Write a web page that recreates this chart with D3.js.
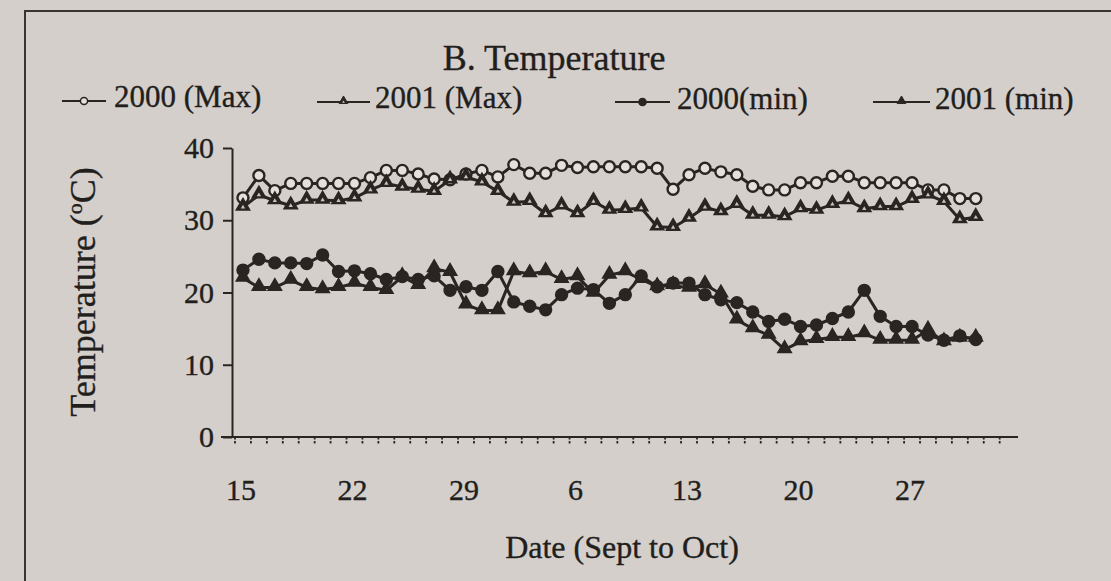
<!DOCTYPE html>
<html>
<head>
<meta charset="utf-8">
<script src="https://cdn.jsdelivr.net/npm/d3@7"></script>
<style>
  html, body { margin: 0; padding: 0; background: #d4cfcb; }
  svg { display: block; }
  text { font-family: "Liberation Serif", "Times New Roman", serif; fill: #221e1c; stroke: #221e1c; stroke-width: 0.35px; }
</style>
</head>
<body>
<svg id="chart" width="1111" height="581"></svg>
<script>
const categories = [
  "Sep 15","Sep 16","Sep 17","Sep 18","Sep 19","Sep 20","Sep 21","Sep 22","Sep 23","Sep 24",
  "Sep 25","Sep 26","Sep 27","Sep 28","Sep 29","Sep 30","Oct 1","Oct 2","Oct 3","Oct 4",
  "Oct 5","Oct 6","Oct 7","Oct 8","Oct 9","Oct 10","Oct 11","Oct 12","Oct 13","Oct 14",
  "Oct 15","Oct 16","Oct 17","Oct 18","Oct 19","Oct 20","Oct 21","Oct 22","Oct 23","Oct 24",
  "Oct 25","Oct 26","Oct 27","Oct 28","Oct 29","Oct 30","Oct 31","Nov 1","Nov 2"
];
const tickCategories = ["Sep 15","Sep 22","Sep 29","Oct 6","Oct 13","Oct 20","Oct 27"];
const tickLabels = ["15","22","29","6","13","20","27"];
const yTicks = [0, 10, 20, 30, 40];

const max2000 = [33.1,36.2,34.1,35.1,35.1,35.1,35.1,35.1,35.9,36.9,
                 36.9,36.4,35.7,35.6,36.4,36.9,36.0,37.7,36.5,36.5,
                 37.6,37.3,37.4,37.4,37.4,37.4,37.2,34.3,36.3,37.2,
                 36.7,36.3,34.7,34.2,34.2,35.2,35.2,36.1,36.1,35.2,
                 35.2,35.2,35.2,34.2,34.2,33.0,33.0];
const max2001 = [31.8,33.5,32.7,32.0,32.8,32.8,32.7,33.1,34.2,35.1,
                 34.6,34.3,34.0,35.6,36.0,35.3,34.0,32.5,32.6,30.9,
                 32.0,30.9,32.6,31.4,31.5,31.7,29.1,29.0,30.3,31.8,
                 31.2,32.2,30.7,30.7,30.5,31.6,31.4,32.2,32.7,31.6,
                 31.9,31.9,32.9,33.5,32.6,30.1,30.4];
const min2000 = [23.1,24.6,24.1,24.1,24.0,25.2,22.9,23.0,22.6,21.8,
                 22.2,21.8,22.3,20.3,20.8,20.3,22.9,18.7,18.1,17.6,
                 19.7,20.6,20.4,18.5,19.7,22.3,20.8,21.3,21.3,19.7,
                 19.0,18.6,17.3,16.0,16.3,15.3,15.5,16.4,17.3,20.3,
                 16.7,15.3,15.3,14.1,13.4,14.0,13.5];
const min2001 = [22.0,20.7,20.7,21.7,20.7,20.4,20.7,21.3,20.7,20.3,
                 22.2,21.0,23.3,22.8,18.3,17.5,17.5,22.9,22.6,22.9,
                 21.8,22.2,19.9,22.4,22.9,21.8,20.8,21.0,20.6,21.1,
                 19.8,16.2,15.0,14.1,12.1,13.2,13.5,13.8,13.8,14.3,
                 13.4,13.4,13.4,14.8,13.2,13.7,13.7];

const seriesNames = ["2000 (Max)", "2001 (Max)", "2000(min)", "2001 (min)"];
const seriesValues = [max2000, max2001, min2000, min2001];
const seriesMarkers = ["openCircle", "openTriangle", "filledCircle", "filledTriangle"];

const ink = "#2a2522";

const svg = d3.select("#chart");

// photo frame
svg.append("path").attr("d", "M25,581 L25,11 L1111,11")
  .attr("fill", "none").attr("stroke", "#3a3431").attr("stroke-width", 2);

const x = d3.scaleBand().domain(categories).range([235, 1015.6]).padding(0);
const y = d3.scaleLinear().domain([0, 40]).range([437, 148]);
const cx = c => x(c) + x.bandwidth() / 2;

// Y axis
const yAxis = d3.axisLeft(y).tickValues(yTicks).tickSize(9).tickPadding(9).tickSizeOuter(0);
const gy = svg.append("g").attr("transform", "translate(232,0)").call(yAxis);
gy.select(".domain").attr("stroke", ink).attr("stroke-width", 2);
gy.selectAll(".tick line").attr("stroke", ink).attr("stroke-width", 2);
gy.selectAll(".tick text").attr("font-size", 30)
  .style("font-family", '"Liberation Serif", serif').attr("fill", "#221e1c");

// X axis (ticks between categories)
const gx = svg.append("g").attr("transform", "translate(0,437)");
gx.append("line").attr("x1", 221).attr("x2", 1018).attr("y1", 0).attr("y2", 0)
  .attr("stroke", ink).attr("stroke-width", 2);
gx.selectAll("line.minor").data(categories).enter().append("line")
  .attr("class", "minor")
  .attr("x1", d => x(d)).attr("x2", d => x(d))
  .attr("y1", 0).attr("y2", 8)
  .attr("stroke", ink).attr("stroke-width", 1.8)
  .attr("stroke-dasharray", "2.5,1.5");
gx.selectAll("text.lbl").data(tickCategories).enter().append("text")
  .attr("class", "lbl")
  .attr("x", d => cx(d) - 2).attr("y", 63)
  .attr("text-anchor", "middle").attr("font-size", 30)
  .text((d, i) => tickLabels[i]);

// Lines and markers
const line = d3.line().x((d, i) => cx(categories[i])).y(d => y(d));

function drawMarker(g, type, px, py, scale) {
  const s = scale || 1;
  if (type === "openCircle" || type === "filledCircle") {
    g.append("circle").attr("cx", px).attr("cy", py).attr("r", 5.5 * s)
      .attr("fill", type === "openCircle" ? "#e4e0dc" : ink)
      .attr("stroke", ink).attr("stroke-width", 2.4 * s);
  } else {
    const sym = d3.symbol().type(d3.symbolTriangle).size(78 * s * s);
    g.append("path").attr("d", sym())
      .attr("transform", `translate(${px},${py - 1})`)
      .attr("fill", ink).attr("stroke", ink).attr("stroke-width", 1.5 * s);
    if (type === "openTriangle") {
      const inner = d3.symbol().type(d3.symbolTriangle).size(8 * s * s);
      g.append("path").attr("d", inner())
        .attr("transform", `translate(${px},${py})`)
        .attr("fill", "#c9c4c0");
    }
  }
}

seriesValues.forEach((vals, k) => {
  const g = svg.append("g");
  g.append("path").datum(vals).attr("d", line)
    .attr("fill", "none").attr("stroke", ink).attr("stroke-width", 3)
    .attr("stroke-linejoin", "round");
  vals.forEach((v, i) => drawMarker(g, seriesMarkers[k], cx(categories[i]), y(v)));
});

// Title
svg.append("text").attr("x", 554).attr("y", 70).attr("text-anchor", "middle")
  .attr("font-size", 36).text("B. Temperature");

// Legend
const legendItems = [
  {x1: 62, x2: 106, tx: 114, ly: 101, ty: 107},
  {x1: 317, x2: 370, tx: 375, ly: 102, ty: 108},
  {x1: 615, x2: 670, tx: 677, ly: 102, ty: 109},
  {x1: 873, x2: 930, tx: 935, ly: 102, ty: 109}
];
legendItems.forEach((it, k) => {
  const g = svg.append("g");
  g.append("line").attr("x1", it.x1).attr("x2", it.x2).attr("y1", it.ly).attr("y2", it.ly)
    .attr("stroke", ink).attr("stroke-width", 2.2);
  drawMarker(g, seriesMarkers[k], (it.x1 + it.x2) / 2, it.ly, 0.65);
  g.append("text").attr("x", it.tx).attr("y", it.ty).attr("font-size", 31).text(seriesNames[k]);
});

// Axis titles
svg.append("text").attr("x", 622).attr("y", 558).attr("text-anchor", "middle")
  .attr("font-size", 32).text("Date (Sept to Oct)");

const yt = svg.append("text").attr("transform", "translate(95,292) rotate(-90)")
  .attr("text-anchor", "middle").attr("font-size", 36);
yt.append("tspan").text("Temperature (");
yt.append("tspan").attr("font-size", 22).attr("dy", -13).text("o");
yt.append("tspan").attr("dy", 13).text("C)");
</script>
</body>
</html>
